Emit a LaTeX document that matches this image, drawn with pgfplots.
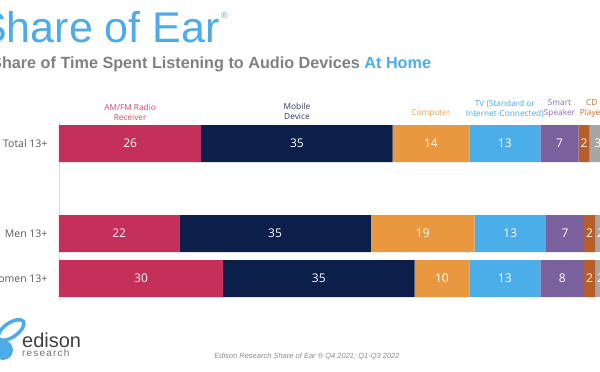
\documentclass[border=0pt]{standalone}
\usepackage{pgfplots}
\pgfplotsset{compat=1.18}
\usepackage{fontspec}
\setmainfont{Open Sans}
\newfontfamily\arial{Liberation Sans}
\newfontfamily\arialspaced[LetterSpace=12]{Liberation Sans}
\definecolor{cRadio}{RGB}{197,48,90}
\definecolor{cMobile}{RGB}{12,31,74}
\definecolor{cComp}{RGB}{234,152,64}
\definecolor{cTV}{RGB}{76,174,232}
\definecolor{cSmart}{RGB}{123,96,158}
\definecolor{cCD}{RGB}{186,94,40}
\definecolor{cOther}{RGB}{166,166,166}
\definecolor{cTitle}{RGB}{77,172,232}
\definecolor{lRadio}{RGB}{218,68,108}
\definecolor{lMobile}{RGB}{45,55,88}
\definecolor{lComp}{RGB}{236,160,80}
\definecolor{lTV}{RGB}{70,168,228}
\definecolor{lSmart}{RGB}{140,110,172}
\definecolor{lCD}{RGB}{200,110,50}
\tikzset{catlab/.style={font=\fontsize{8.3}{10}\selectfont, align=center, inner sep=0pt, anchor=south}}
\begin{document}
\begin{tikzpicture}[x=1pt,y=1pt]
\useasboundingbox (0,0) rectangle (600,372);
\clip (0,0) rectangle (600,372);
% titles
\node[anchor=base west, inner sep=0pt, text=cTitle, font=\arial\fontsize{43}{43}\selectfont] at (-22,329) {Share of Ear};
\node[anchor=base west, inner sep=0pt, text=cTitle, font=\arial\fontsize{9}{9}\selectfont] at (221,353) {\textregistered};
\node[anchor=base west, inner sep=0pt, text=black!50, font=\arial\bfseries\fontsize{16.2}{17}\selectfont] at (-9,303) {Share of Time Spent Listening to Audio Devices {\color{cTitle}At Home}};
% logo
\draw[cTitle, line width=3.5pt, rotate around={35:(11,42)}] (11,42) ellipse [x radius=15, y radius=7];
\fill[cTitle] (3,22) circle (10);
\node[anchor=base west, inner sep=0pt, text=black!75, font=\arial\fontsize{20}{20}\selectfont] at (22,24) {edison};
\node[anchor=base west, inner sep=0pt, text=black!55, font=\arialspaced\fontsize{10}{10}\selectfont] at (22,15) {research};
% footer
\node[text=black!45, font=\arial\itshape\fontsize{7.5}{9}\selectfont] at (307,16) {Edison Research Share of Ear \textregistered{} Q4 2021; Q1-Q3 2022};
\begin{axis}[at={(59pt,250pt)}, anchor=north west, scale only axis,
  width=547pt, height=178.2pt, xbar stacked, bar width=37pt,
  xmin=0, xmax=100, ymin=-0.48, ymax=3.48, y dir=reverse,
  hide x axis, axis y line*=left, y axis line style={draw=black!15},
  ytick={0,2,3}, yticklabels={Total 13+, Men 13+, Women 13+},
  major tick length=0pt, clip=false,
  yticklabel style={font=\fontsize{10.5}{12}\selectfont, text=black!65, xshift=-8pt}]
\addplot[fill=cRadio, draw=none] coordinates {(26,0) (22,2) (30,3)};
\addplot[fill=cMobile, draw=none] coordinates {(35,0) (35,2) (35,3)};
\addplot[fill=cComp, draw=none] coordinates {(14,0) (19,2) (10,3)};
\addplot[fill=cTV, draw=none] coordinates {(13,0) (13,2) (13,3)};
\addplot[fill=cSmart, draw=none] coordinates {(7,0) (7,2) (8,3)};
\addplot[fill=cCD, draw=none] coordinates {(2,0) (2,2) (2,3)};
\addplot[fill=cOther, draw=none] coordinates {(3,0) (2,2) (2,3)};
\node[catlab, text=lRadio] at (axis cs:13,-0.51) {AM/FM Radio\\Receiver};
\node[catlab, text=lMobile] at (axis cs:43.5,-0.53) {Mobile\\Device};
\node[catlab, text=lComp] at (axis cs:68,-0.57) {Computer};
\node[catlab, text=lTV] at (axis cs:81.5,-0.57) {TV (Standard or\\Internet-Connected)};
\node[catlab, text=lSmart] at (axis cs:91.5,-0.57) {Smart\\Speaker};
\node[catlab, text=lCD] at (axis cs:97.4,-0.57) {CD\\Player};
\end{axis}
\begin{axis}[at={(59pt,250pt)}, anchor=north west, scale only axis,
  width=547pt, height=178.2pt,
  xmin=0, xmax=100, ymin=-0.48, ymax=3.48, y dir=reverse,
  axis lines=none, clip=false]
\addplot[draw=none, mark=none, nodes near coords, point meta=explicit symbolic,
  every node near coord/.append style={anchor=center, text=white, font=\fontsize{12}{13}\selectfont}]
  table[meta=label] {
x y label
13 0 26
43.5 0 35
68 0 14
81.5 0 13
91.5 0 7
96 0 2
98.5 0 3
11 2 22
39.5 2 35
66.5 2 19
82.5 2 13
92.5 2 7
97 2 2
99 2 2
15 3 30
47.5 3 35
70 3 10
81.5 3 13
92 3 8
97 3 2
99 3 2
};
\end{axis}
\end{tikzpicture}
\end{document}
